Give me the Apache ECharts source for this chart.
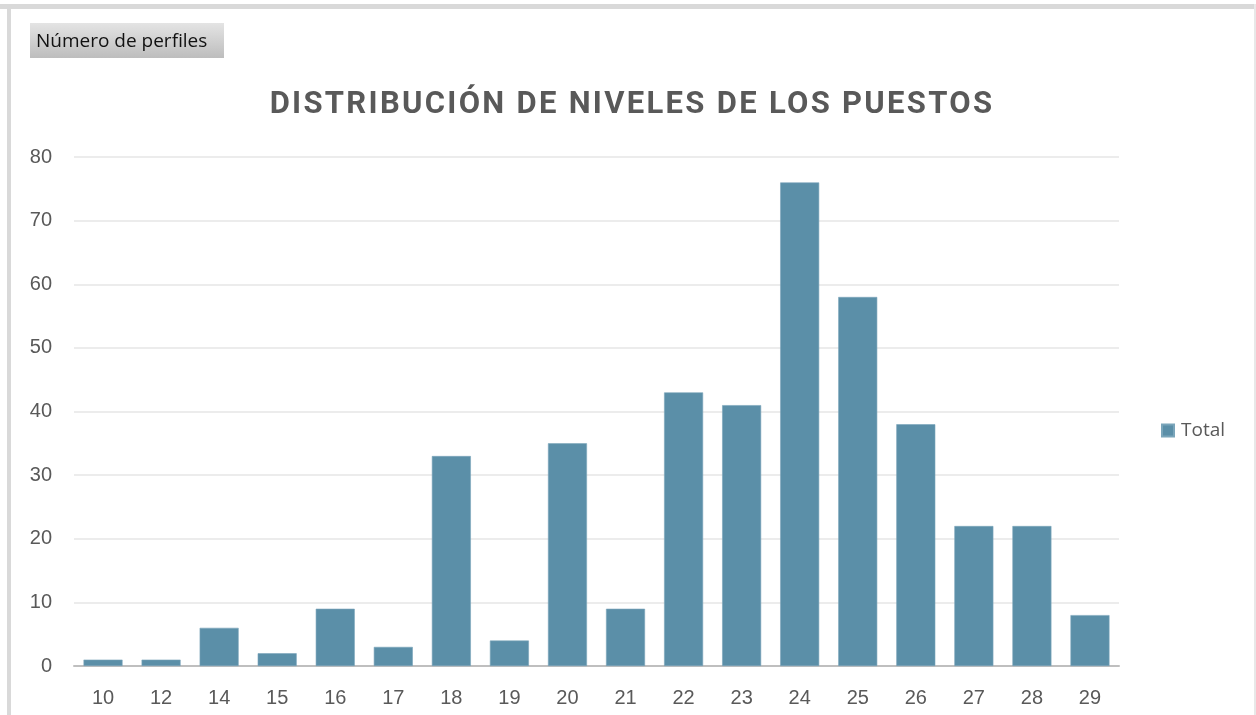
<!DOCTYPE html>
<html>
<head>
<meta charset="utf-8">
<script src="https://cdn.jsdelivr.net/npm/echarts@6/dist/echarts.min.js"></script>
<style>
html,body{margin:0;padding:0;background:#fff;}
#wrap{position:relative;width:1256px;height:715px;}
#c{width:1256px;height:715px;}
#title{position:absolute;left:4px;width:1256px;top:82px;text-align:center;font-family:Roboto;font-weight:bold;font-size:31px;line-height:42px;color:#595959;letter-spacing:2.3px;pointer-events:none;}
</style>
</head>
<body>
<div id="wrap">
<div id="c"></div>
<div id="title"></div>
</div>
<script>
const categories = ['10','12','14','15','16','17','18','19','20','21','22','23','24','25','26','27','28','29'];
const totals = [1,1,6,2,9,3,33,4,35,9,43,41,76,58,38,22,22,8];
const yTicks = {min:0, max:80, interval:10};
const titleText = 'DISTRIBUCIÓN DE NIVELES DE LOS PUESTOS';
const fieldButton = 'Número de perfiles';
const seriesName = 'Total';

document.getElementById('title').textContent = titleText;

const chart = echarts.init(document.getElementById('c'), null, {renderer:'canvas'});
chart.setOption({
  animation:false,
  backgroundColor:'#fff',
  legend:{
    orient:'vertical', left:1156, top:416,
    itemWidth:12, itemHeight:12, itemGap:8,
    icon:'rect',
    textStyle:{fontFamily:'Open Sans', fontSize:19, color:'#595959', padding:[0,0,0,2]},
    data:[seriesName]
  },
  grid:{left:74, right:137, top:157, bottom:49, containLabel:false},
  xAxis:{
    type:'category', data:categories,
    axisLine:{lineStyle:{color:'#bfbfbf', width:2}},
    axisTick:{show:false},
    axisLabel:{fontFamily:'Liberation Sans', fontSize:20, color:'#595959', margin:22}
  },
  yAxis:{
    type:'value', min:yTicks.min, max:yTicks.max, interval:yTicks.interval,
    axisLine:{show:false}, axisTick:{show:false},
    splitLine:{lineStyle:{color:'#e6e6e6', width:1.5}},
    axisLabel:{fontFamily:'Liberation Sans', fontSize:20, color:'#595959', margin:22}
  },
  series:[{
    name:seriesName, type:'bar', data:totals, barWidth:39,
    itemStyle:{color:'#5b8fa8', borderColor:'#7aa5ba', borderWidth:0.6}
  }],
  graphic:[
    {type:'rect', shape:{x:0,y:4,width:1256,height:5}, style:{fill:'#d9d9d9'}, silent:true},
    {type:'rect', shape:{x:7,y:4,width:4,height:711}, style:{fill:'#d9d9d9'}, silent:true},
    {type:'rect', shape:{x:1254,y:4,width:2,height:711}, style:{fill:'#e8e8e8'}, silent:true},
    {type:'rect', shape:{x:30,y:23,width:194,height:35},
      style:{fill:new echarts.graphic.LinearGradient(0,0,0,1,[{offset:0,color:'#e4e4e4'},{offset:1,color:'#bdbdbd'}])}, silent:true},
    {type:'text', x:36, y:42, style:{text:fieldButton, fontFamily:'Open Sans', fontSize:19, fill:'#111', verticalAlign:'middle'}, silent:true}
  ]
});
</script>
</body>
</html>
